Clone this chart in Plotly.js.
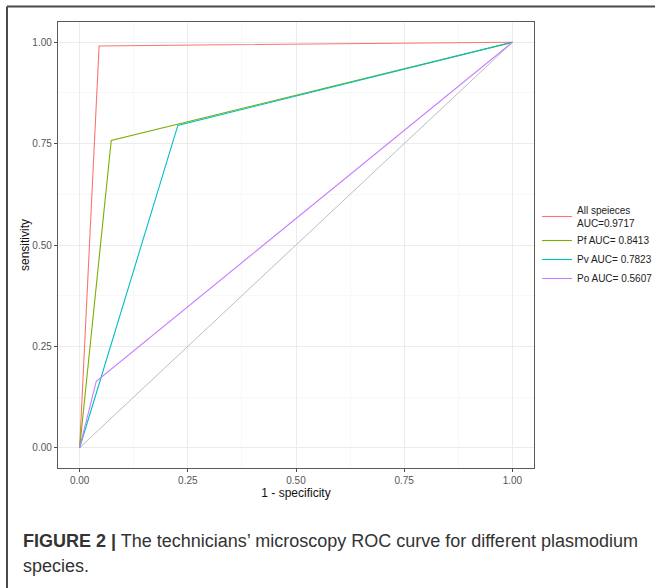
<!DOCTYPE html>
<html>
<head>
<meta charset="utf-8">
<script src="https://cdn.plot.ly/plotly-3.0.1.min.js"></script>
<style>
  html, body { margin: 0; padding: 0; background: #fff; }
  #chart { width: 655px; height: 588px; }
</style>
</head>
<body>
<div id="chart"></div>
<script>
// ROC curves (1 - specificity, sensitivity)
const seriesNames = ["All speieces<br>AUC=0.9717", "Pf AUC= 0.8413", "Pv AUC= 0.7823", "Po AUC= 0.5607"];
const seriesColors = ["#F8766D", "#7CAE00", "#00BFC4", "#C77CFF"];

const allFpr = [0, 0.045, 0.333, 0.522, 0.713, 0.90, 1];
const allTpr = [0, 0.991, 0.994, 0.996, 0.998, 0.999, 1];

const pfFpr = [0, 0.073, 1];
const pfTpr = [0, 0.758, 1];

const pvFpr = [0, 0.227, 1];
const pvTpr = [0, 0.795, 1];

const poFpr = [0, 0.0385, 1];
const poTpr = [0, 0.164, 1];

const refLine = [0, 1];

const xTicks = [0, 0.25, 0.5, 0.75, 1];
const yTicks = [0, 0.25, 0.5, 0.75, 1];

const fprList = [allFpr, pfFpr, pvFpr, poFpr];
const tprList = [allTpr, pfTpr, pvTpr, poTpr];

const traces = [{
  x: refLine, y: refLine, mode: "lines", showlegend: false, hoverinfo: "skip",
  line: { color: "#BDBDBD", width: 1 }
}];
for (let i = 0; i < seriesNames.length; i++) {
  traces.push({
    x: fprList[i], y: tprList[i], mode: "lines", name: seriesNames[i],
    line: { color: seriesColors[i], width: 1.1 }
  });
}

// plot area pixel geometry
const W = 655, H = 588;
const L = 58, R = 534, T = 22, B = 468;
const px = v => (v - L) / (R - L);
const py = v => (B - v) / (B - T);

const axisCommon = {
  range: [-0.05, 1.05],
  tickformat: ".2f",
  showgrid: true, gridcolor: "#EBEBEB", gridwidth: 1,
  minor: { dtick: 0.125, tick0: 0, showgrid: true, gridcolor: "#F3F3F3", gridwidth: 0.6 },
  zeroline: false,
  showline: true, mirror: true, linecolor: "#5A5A5A", linewidth: 1.2,
  ticks: "outside", ticklen: 3, tickwidth: 1, tickcolor: "#4D4D4D",
  tickfont: { family: "Liberation Sans, Arial, sans-serif", size: 10, color: "#555555" },
  automargin: false,
  fixedrange: true
};

const layout = {
  width: W, height: H,
  margin: { l: L, r: W - R, t: T, b: H - B, pad: 0, autoexpand: false },
  paper_bgcolor: "#ffffff", plot_bgcolor: "#ffffff",
  font: { family: "Liberation Sans, Arial, sans-serif", color: "#000" },
  xaxis: Object.assign({}, axisCommon, {
    tickvals: xTicks, ticktext: xTicks.map(v => v.toFixed(2)),
    title: { text: "1 - specificity", font: { size: 12, color: "#111" }, standoff: 2 }
  }),
  yaxis: Object.assign({}, axisCommon, {
    tickvals: yTicks, ticktext: yTicks.map(v => v.toFixed(2)),
    title: { text: "sensitivity", font: { size: 12, color: "#111" }, standoff: 0 }
  }),
  showlegend: true,
  legend: {
    xref: "container", yref: "container",
    x: 537 / W, y: 1 - 197 / H, xanchor: "left", yanchor: "top",
    font: { size: 10, color: "#222" },
    itemwidth: 30, tracegroupgap: 0, bgcolor: "rgba(0,0,0,0)"
  },
  shapes: [
    { type: "line", xref: "paper", yref: "paper", x0: px(7), x1: px(7), y0: py(6.5), y1: py(600),
      line: { color: "#4A4A4A", width: 2 } },
    { type: "line", xref: "paper", yref: "paper", x0: px(7), x1: px(670), y0: py(6.5), y1: py(6.5),
      line: { color: "#4A4A4A", width: 2 } }
  ],
  annotations: [
    { xref: "paper", yref: "paper", x: px(21), y: py(541), xanchor: "left", yanchor: "middle",
      showarrow: false, align: "left",
      text: "<b>FIGURE 2 |</b> The technicians\u2019 microscopy ROC curve for different plasmodium",
      font: { family: "Liberation Sans, Arial, sans-serif", size: 18, color: "#333" } },
    { xref: "paper", yref: "paper", x: px(21), y: py(566), xanchor: "left", yanchor: "middle",
      showarrow: false, align: "left",
      text: "species.",
      font: { family: "Liberation Sans, Arial, sans-serif", size: 18, color: "#333" } }
  ]
};

Plotly.newPlot("chart", traces, layout, { displayModeBar: false, staticPlot: true });
</script>
</body>
</html>
